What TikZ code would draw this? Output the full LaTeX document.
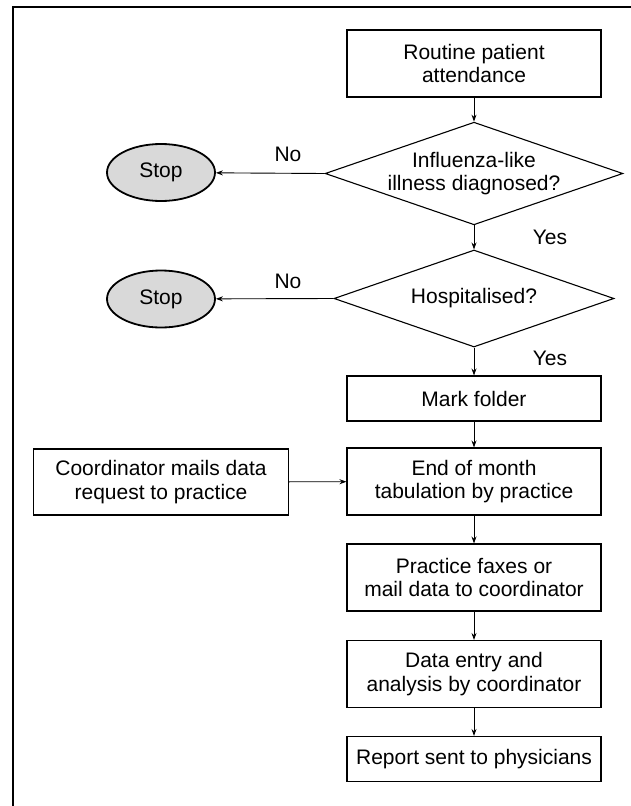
\documentclass[tikz,border=0pt]{standalone}
\usepackage{fontspec}
\setmainfont{Liberation Sans}
\usetikzlibrary{shapes.geometric,arrows.meta}
\begin{document}
\begin{tikzpicture}[x=1pt,y=-1pt,
  every node/.style={font=\fontsize{21}{23.5}\selectfont},
  stepbox/.style={draw,line width=1.1pt,rectangle,align=center,minimum width=254pt,inner sep=0pt},
  decide/.style={draw,line width=1.1pt,diamond,align=center,minimum width=280pt,minimum height=96pt,inner sep=0pt,shape aspect=2.9},
  stopnode/.style={draw,line width=1.8pt,ellipse,fill=black!15,minimum width=108pt,minimum height=57pt,inner sep=0pt},
  arr/.style={line width=0.9pt,-{Stealth[length=7pt,width=5pt]}},
  lab/.style={inner sep=0pt}]
\useasboundingbox (0,0) rectangle (631,806);
\coordinate (fb) at (13,806);
\coordinate (ft) at (13,7);
\coordinate (fr) at (631,7);
\draw[line width=1.4pt] (fb) -- (ft) -- (fr);

\node[stepbox,minimum height=67pt] (routine) at (474,63.5) {Routine patient\\attendance};
\node[decide] (d1) at (474,173.5) {Influenza-like\\illness diagnosed?};
\node[decide,minimum height=97pt] (d2) at (474,298.5) {Hospitalised?};
\node[stepbox,minimum height=45pt] (mark) at (474,398.5) {Mark folder};
\node[stepbox,minimum height=67pt] (endm) at (474,481.5) {End of month\\tabulation by practice};
\node[stepbox,minimum height=67pt] (fax) at (474,577.5) {Practice faxes or\\mail data to coordinator};
\node[stepbox,minimum height=67pt] (entry) at (474,674) {Data entry and\\analysis by coordinator};
\node[stepbox,minimum height=45pt] (report) at (474,759) {Report sent to physicians};
\node[stepbox,minimum height=66pt,minimum width=255pt] (coord) at (161,482) {Coordinator mails data\\request to practice};
\node[stopnode] (stop1) at (161,172.5) {Stop};
\node[stopnode] (stop2) at (161,299) {Stop};

\node[lab] (no1) at (288,154) {No};
\node[lab] (no2) at (288,281) {No};
\node[lab] (yes1) at (550,237) {Yes};
\node[lab] (yes2) at (550,358) {Yes};

\draw[arr] (routine) -- (d1);
\draw[arr] (d1) -- (d2);
\draw[arr] (d2) -- (mark);
\draw[arr] (mark) -- (endm);
\draw[arr] (endm) -- (fax);
\draw[arr] (fax) -- (entry);
\draw[arr] (entry) -- (report);
\draw[arr] (d1.west) -- (stop1);
\draw[arr] (d2.west) -- (stop2);
\draw[arr] (coord) -- (endm);
\end{tikzpicture}
\end{document}
